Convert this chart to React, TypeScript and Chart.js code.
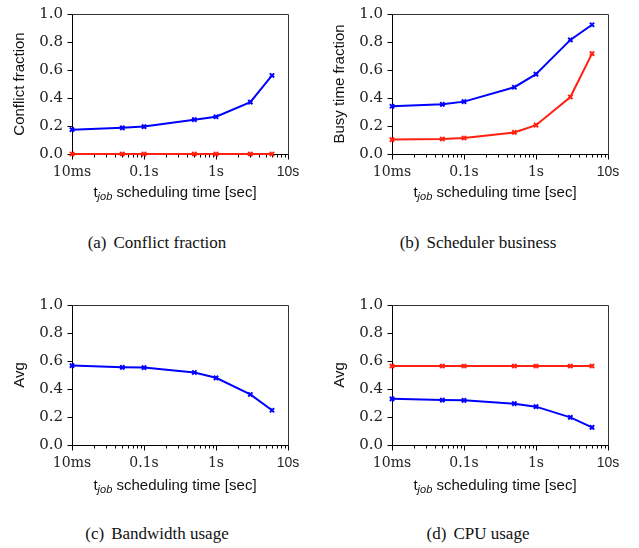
import React, { useEffect, useRef } from "react";
import { Chart, registerables } from "chart.js";

Chart.register(...registerables);

// ---------- data ----------
const schedulingTimes = [0.01, 0.05, 0.1, 0.5, 1, 3, 6];

const conflictBlue = [0.174, 0.187, 0.196, 0.245, 0.266, 0.371, 0.561];
const conflictRed = [0.0, 0.0, 0.0, 0.0, 0.0, 0.0, 0.0];

const busyBlue = [0.341, 0.355, 0.374, 0.477, 0.57, 0.815, 0.923];
const busyRed = [0.103, 0.107, 0.114, 0.154, 0.206, 0.407, 0.717];

const bandwidthBlue = [0.567, 0.555, 0.553, 0.518, 0.48, 0.361, 0.248];

const cpuRed = [0.564, 0.564, 0.564, 0.564, 0.564, 0.564, 0.564];
const cpuBlue = [0.33, 0.321, 0.319, 0.295, 0.274, 0.197, 0.126];

const xTickValues = [
  0.01, 0.02, 0.03, 0.04, 0.05, 0.06, 0.07, 0.08, 0.09,
  0.1, 0.2, 0.3, 0.4, 0.5, 0.6, 0.7, 0.8, 0.9,
  1, 2, 3, 4, 5, 6, 7, 8, 9,
  10,
];
const xMajorValues = [0.01, 0.1, 1, 10];
const xMajorLabels = ["10ms", "0.1s", "1s", "10s"];

const yTickValues = [0, 0.2, 0.4, 0.6, 0.8, 1.0];

const BLUE = "#0000ff";
const RED = "#ff2010";

type Series = { label: string; values: number[]; color: string };

const framePlugin = {
  id: "frameTicks",
  beforeDatasetsDraw(chart: any) {
    const { ctx, chartArea } = chart;
    const { left, right, top, bottom } = chartArea;
    const xs = chart.scales.x;
    const ys = chart.scales.y;
    ctx.save();
    ctx.lineWidth = 1;
    ctx.strokeStyle = "#000";
    const L = Math.round(left) + 0.5;
    const R = Math.round(right) + 0.5;
    const T = Math.round(top) + 0.5;
    const B = Math.round(bottom) + 0.5;
    ctx.beginPath();
    ctx.moveTo(L, T);
    ctx.lineTo(L, B);
    ctx.lineTo(R, B);
    ctx.stroke();
    ctx.strokeStyle = "#333";
    ctx.beginPath();
    ctx.moveTo(L, T);
    ctx.lineTo(R, T);
    ctx.lineTo(R, B);
    ctx.stroke();
    ctx.strokeStyle = "#000";
    ctx.beginPath();
    for (const v of yTickValues) {
      const py = Math.round(ys.getPixelForValue(v)) + 0.5;
      ctx.moveTo(L - 5, py);
      ctx.lineTo(L, py);
    }
    for (const v of xTickValues) {
      const px = Math.round(xs.getPixelForValue(v)) + 0.5;
      const len = xMajorValues.includes(v) ? 5 : 3;
      ctx.moveTo(px, B);
      ctx.lineTo(px, B + len);
    }
    ctx.stroke();
    ctx.restore();
  },
};

const CANVAS_H = 214;
const PLOT_BOTTOM = 158; // within the canvas

function Panel(props: {
  series: Series[];
  yTitle: string;
  width: number;
  rightPad: number;
}) {
  const ref = useRef<HTMLCanvasElement>(null);
  useEffect(() => {
    if (!ref.current) return;
    const chart = new Chart(ref.current, {
      type: "line",
      data: {
        datasets: props.series.map((s) => ({
          label: s.label,
          data: schedulingTimes.map((t, i) => ({ x: t, y: s.values[i] })),
          borderColor: s.color,
          backgroundColor: s.color,
          borderWidth: 2,
          pointStyle: "crossRot",
          pointRadius: 3,
          pointBorderWidth: 2,
          tension: 0,
          fill: false,
          clip: false,
        })),
      },
      options: {
        animation: false,
        responsive: false,
        maintainAspectRatio: false,
        layout: { padding: { top: 8, right: props.rightPad, left: 0, bottom: 0 } },
        plugins: { legend: { display: false }, tooltip: { enabled: false } },
        scales: {
          x: {
            type: "logarithmic",
            min: 0.01,
            max: 10,
            afterBuildTicks: (scale: any) => {
              scale.ticks = xTickValues.map((v) => ({
                value: v,
                major: xMajorValues.includes(v),
              }));
            },
            afterFit: (scale: any) => {
              scale.height = CANVAS_H - PLOT_BOTTOM;
            },
            grid: { display: false, drawTicks: false },
            border: { display: false },
            ticks: {
              autoSkip: false,
              maxRotation: 0,
              padding: 10,
              color: "#222",
              font: (ctx: any) =>
                ctx.tick && ctx.tick.value === 10
                  ? { family: "Liberation Sans", size: 14 }
                  : { family: "DejaVu Serif", size: 14 },
              callback: (value: any) => {
                const idx = xMajorValues.indexOf(Number(value));
                return idx >= 0 ? xMajorLabels[idx] : "";
              },
            },
          },
          y: {
            min: 0,
            max: 1,
            afterBuildTicks: (scale: any) => {
              scale.ticks = yTickValues.map((v) => ({ value: v }));
            },
            afterFit: (scale: any) => {
              scale.width = 72;
            },
            grid: { display: false, drawTicks: false },
            border: { display: false },
            ticks: {
              padding: 9,
              color: "#222",
              font: { family: "DejaVu Serif", size: 15 },
              callback: (value: any) => Number(value).toFixed(1),
            },
            title: {
              display: true,
              text: props.yTitle,
              color: "#111",
              font: { family: "Liberation Sans", size: 15 },
              padding: { top: 11, bottom: 0 },
            },
          },
        },
      },
      plugins: [framePlugin],
    } as any);
    return () => chart.destroy();
  }, []);
  return (
    <canvas
      ref={ref}
      width={props.width}
      height={CANVAS_H}
      style={{ width: props.width, height: CANVAS_H, display: "block" }}
    />
  );
}

const xTitleStyle: React.CSSProperties = {
  position: "absolute",
  transform: "translate(-50%, -50%)",
  fontFamily: "Liberation Sans",
  fontSize: 15,
  color: "#111",
  whiteSpace: "nowrap",
  lineHeight: "18px",
};

const captionStyle: React.CSSProperties = {
  position: "absolute",
  transform: "translate(-50%, -50%)",
  fontFamily: "Liberation Serif",
  fontSize: 17,
  color: "#111",
  whiteSpace: "nowrap",
  lineHeight: "20px",
};

function XTitle({ left, top }: { left: number; top: number }) {
  return (
    <div style={{ ...xTitleStyle, left, top }}>
      t
      <sub style={{ fontStyle: "italic", fontSize: 11, verticalAlign: "-3px" }}>job</sub>{" "}
      scheduling time [sec]
    </div>
  );
}

function Caption({ left, top, tag, text }: { left: number; top: number; tag: string; text: string }) {
  return (
    <div style={{ ...captionStyle, left, top }}>
      <span style={{ marginRight: 7 }}>{tag}</span>
      {text}
    </div>
  );
}

export default function App() {
  return (
    <div
      style={{
        position: "fixed",
        left: 0,
        top: 0,
        width: 639,
        height: 548,
        background: "#fff",
        overflow: "hidden",
      }}
    >
      <div style={{ position: "absolute", left: 0, top: -4 }}>
        <Panel
          width={320}
          rightPad={32}
          yTitle="Conflict fraction"
          series={[
            { label: "Blue", values: conflictBlue, color: BLUE },
            { label: "Red", values: conflictRed, color: RED },
          ]}
        />
      </div>
      <div style={{ position: "absolute", left: 320, top: -4 }}>
        <Panel
          width={319}
          rightPad={31}
          yTitle="Busy time fraction"
          series={[
            { label: "Blue", values: busyBlue, color: BLUE },
            { label: "Red", values: busyRed, color: RED },
          ]}
        />
      </div>
      <div style={{ position: "absolute", left: 0, top: 287 }}>
        <Panel
          width={320}
          rightPad={32}
          yTitle="Avg"
          series={[{ label: "Blue", values: bandwidthBlue, color: BLUE }]}
        />
      </div>
      <div style={{ position: "absolute", left: 320, top: 287 }}>
        <Panel
          width={319}
          rightPad={31}
          yTitle="Avg"
          series={[
            { label: "Red", values: cpuRed, color: RED },
            { label: "Blue", values: cpuBlue, color: BLUE },
          ]}
        />
      </div>

      <XTitle left={175} top={194} />
      <XTitle left={495} top={194} />
      <XTitle left={175} top={487} />
      <XTitle left={495} top={487} />

      <Caption left={157} top={243} tag="(a)" text="Conflict fraction" />
      <Caption left={478} top={243} tag="(b)" text="Scheduler business" />
      <Caption left={157} top={534} tag="(c)" text="Bandwidth usage" />
      <Caption left={478} top={534} tag="(d)" text="CPU usage" />
    </div>
  );
}
